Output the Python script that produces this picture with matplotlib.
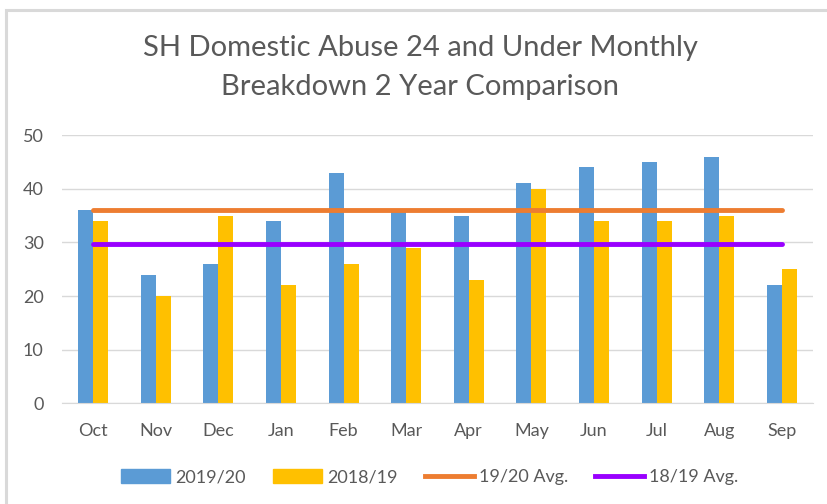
import matplotlib
matplotlib.use("Agg")
import matplotlib.pyplot as plt
import numpy as np
from matplotlib.patches import Patch, Rectangle
from matplotlib.lines import Line2D

months = ["Oct", "Nov", "Dec", "Jan", "Feb", "Mar", "Apr", "May", "Jun", "Jul", "Aug", "Sep"]
s2019_20 = [36, 24, 26, 34, 43, 36, 35, 41, 44, 45, 46, 22]
s2018_19 = [34, 20, 35, 22, 26, 29, 23, 40, 34, 34, 35, 25]
avg_19_20 = np.mean(s2019_20)
avg_18_19 = np.mean(s2018_19)
yticks = [0, 10, 20, 30, 40, 50]
title_lines = ["SH Domestic Abuse 24 and Under Monthly", "Breakdown 2 Year Comparison"]

plt.rcParams['font.family'] = ['Lato', 'DejaVu Sans']

W, H = 827, 504
fig = plt.figure(figsize=(W / 100, H / 100), dpi=100)
# chart border (top and left edges visible, right/bottom beyond image)
fig.patches.append(Rectangle((6 / W, -0.1), 1.2, 1 - 10 / H + 0.1, transform=fig.transFigure,
                             fill=False, edgecolor="#d9d9d9", linewidth=2.2))
ax = fig.add_axes([0.0746, 0.1998, 0.9088, 0.5322])

x = np.arange(len(months))
w = 0.24
ax.bar(x - w / 2, s2019_20, width=w, color="#5b9bd5", label="2019/20", zorder=2)
ax.bar(x + w / 2, s2018_19, width=w, color="#ffc000", label="2018/19", zorder=2)
ax.plot([x[0], x[-1]], [avg_19_20, avg_19_20], color="#ed7d31", lw=3.5, zorder=3,
        solid_capstyle="round", label="19/20 Avg.")
ax.plot([x[0], x[-1]], [avg_18_19, avg_18_19], color="#9900ff", lw=3.5, zorder=3,
        solid_capstyle="round", label="18/19 Avg.")

ax.set_xlim(-0.5, len(months) - 0.5)
ax.set_ylim(0, 50)
ax.set_yticks(yticks)
ax.set_xticks(x)
ax.set_xticklabels(months)
ax.grid(axis="y", color="#d9d9d9", linewidth=1, zorder=0)
ax.set_axisbelow(True)
for s in ["top", "right", "left"]:
    ax.spines[s].set_visible(False)
ax.spines["bottom"].set_color("#d9d9d9")
ax.tick_params(axis="both", length=0, labelsize=13, colors="#595959")
ax.tick_params(axis="x", pad=14)
ax.tick_params(axis="y", pad=13)

fig.text(0.508, 1 - 48 / H, title_lines[0], ha="center", va="center", fontsize=21, color="#595959")
fig.text(0.508, 1 - 87 / H, title_lines[1], ha="center", va="center", fontsize=21, color="#595959")

handles = [Patch(color="#5b9bd5"), Patch(color="#ffc000"),
           Line2D([0], [0], color="#ed7d31", lw=3.5), Line2D([0], [0], color="#9900ff", lw=3.5)]
labels = ["2019/20", "2018/19", "19/20 Avg.", "18/19 Avg."]
fig.legend(handles, labels, loc="center", bbox_to_anchor=(0.52, 1 - 477 / H), ncol=4, frameon=False,
           fontsize=13, labelcolor="#595959", handlelength=2.7, handleheight=0.8,
           columnspacing=1.5, handletextpad=0.3)

fig.savefig("out.png", dpi=100, facecolor="white")
